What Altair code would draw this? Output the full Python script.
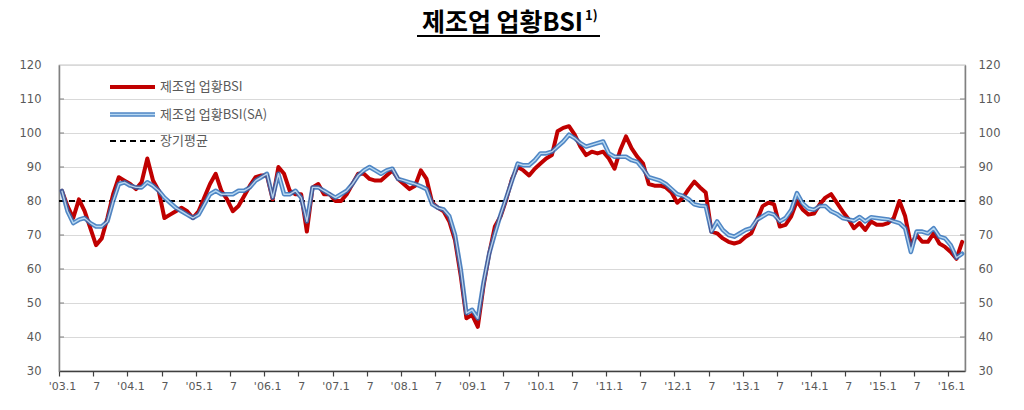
import json
import altair as alt
import pandas as pd

# ---------------- data ----------------
TITLE = "제조업 업황BSI"
TITLE_NOTE = "1)"
LEGEND_LABELS = ["제조업 업황BSI", "제조업 업황BSI(SA)", "장기평균"]
LONG_TERM_AVG = 80
Y_TICKS = [30, 40, 50, 60, 70, 80, 90, 100, 110, 120]
X_TICK_LABELS = ["'03.1", "7", "'04.1", "7", "'05.1", "7", "'06.1", "7", "'07.1", "7",
                 "'08.1", "7", "'09.1", "7", "'10.1", "7", "'11.1", "7", "'12.1", "7",
                 "'13.1", "7", "'14.1", "7", "'15.1", "7", "'16.1"]

# monthly, 2003.1 - 2016.3
bsi = [
    83, 78.5, 75, 80.5, 77, 72, 67, 69, 75, 82, 87, 86,            # 2003
    85, 83.5, 85.5, 92.5, 86, 83, 75, 76, 77, 78, 77, 75,          # 2004
    77, 81, 85, 88, 83, 80.5, 77, 78.5, 81.5, 84.5, 87, 87.5,      # 2005
    87.5, 80.5, 90, 88, 83, 82, 82, 71, 84, 85, 82, 82,            # 2006
    80, 80, 82, 85, 88, 88, 86.5, 86, 86, 87.5, 89, 86.5,          # 2007
    85, 83.5, 84.5, 89, 86.5, 79.5, 78, 77, 74, 68.5, 58, 45.5,    # 2008
    46.5, 43, 55, 64.5, 72.5, 75.5, 80.5, 86.5, 90, 89, 87.5, 89.5,  # 2009
    91, 92.5, 93.5, 100.5, 101.5, 102, 99.5, 96, 93.5, 94.5, 94, 94.5,  # 2010
    92.5, 89.5, 95, 99, 95.5, 93, 91, 85, 84.5, 84.5, 84, 82.5,    # 2011
    79.5, 81, 83.5, 85.7, 84, 82.5, 71, 70.5, 69, 68, 67.5, 68,    # 2012
    69.5, 70.5, 74.5, 78.5, 79.5, 79, 72.5, 73, 75.5, 80, 77.5, 76,  # 2013
    76.3, 79, 81, 82, 79.5, 77, 74.8, 72, 73.5, 71.5, 74, 73,      # 2014
    73, 73.5, 75, 80, 75.5, 67, 70, 68, 68, 70.5, 67.5, 66.5,      # 2015
    65, 63, 68,                                                    # 2016
]
bsi_sa = [
    83, 77, 73.5, 74.5, 75, 73.5, 72.5, 72.5, 74, 80, 85, 85.5,    # 2003
    84.5, 84, 84, 85.5, 84.5, 83, 81, 79.5, 78, 77, 76, 75,        # 2004
    76, 79, 82, 83, 82, 82, 82, 83, 83, 84, 86, 87,                # 2005
    88, 81, 88, 82, 82, 83, 81, 74, 84, 84, 83, 82,                # 2006
    81, 82, 83, 85, 87.5, 89, 90, 89, 88, 89, 89.5, 86.5,          # 2007
    86, 85.5, 85, 84.3, 83.5, 79, 78, 77.5, 75.5, 70, 60, 47,      # 2008
    48, 45.5, 56, 64.5, 70.5, 76, 81, 86, 91, 90.5, 90.5, 92,      # 2009
    94, 94, 94.5, 96, 97.5, 99.5, 98.5, 97, 96, 96.5, 97, 97.5,    # 2010
    94, 93, 93, 93, 92, 91.5, 89.5, 87, 86.5, 86, 85, 83.5,        # 2011
    82, 81.5, 80.5, 79, 78.6, 78.5, 71, 74, 71.5, 70, 69.5, 70.5,  # 2012
    71.5, 72, 74.5, 75.5, 76.5, 76, 74, 75, 77.3, 82.3, 79.3, 77.8,  # 2013
    77.4, 78.5, 78.5, 77, 76.2, 75, 74.6, 74.2, 75.3, 74, 75.2, 75,  # 2014
    74.8, 74.6, 74, 73.5, 72, 65, 71, 71, 70.5, 72, 69.5, 69,      # 2015
    67, 63.3, 64.5,                                                # 2016
]

n = len(bsi)
df = pd.DataFrame({"m": [i + 0.5 for i in range(n)], "bsi": bsi, "sa": bsi_sa})

# ---------------- layout ----------------
W, H = 906, 306
KR = "Noto Sans CJK KR"
NUM = "DejaVu Sans"
BLUE = "#2a6db8"
LIGHT = "#c9e6f9"

ys = alt.Scale(domain=[Y_TICKS[0], Y_TICKS[-1]], nice=False, zero=False)
xs = alt.Scale(domain=[0, n], nice=False, zero=False)

x_axis = alt.Axis(
    values=list(range(0, 6 * len(X_TICK_LABELS), 6)),
    labelExpr=json.dumps(X_TICK_LABELS) + "[round(datum.value / 6)]",
    title=None, grid=False, ticks=True, tickSize=5, tickColor="#404040", tickWidth=1.2,
    domainColor="#404040", domainWidth=1.5, labelFont=NUM, labelFontSize=11,
    labelColor="#595959", labelPadding=4, labelOffset=3, labelFlush=False,
    labelOverlap=False,
)
X = alt.X("m:Q", scale=xs, axis=x_axis)

left_axis = alt.Axis(values=Y_TICKS, orient="left", grid=True, gridColor="#d9d9d9",
                     gridWidth=1.2, ticks=False, domainColor="#808080", domainWidth=1.5,
                     labelFont=NUM, labelFontSize=11.5, labelColor="#595959",
                     labelPadding=18, title=None)
right_axis = alt.Axis(values=Y_TICKS, orient="right", grid=False, ticks=False,
                      domainColor="#808080", domainWidth=1.5, labelFont=NUM,
                      labelFontSize=11.5, labelColor="#595959", labelPadding=13,
                      title=None, labelAlign="left")

axis_left = alt.Chart(df).mark_line(opacity=0).encode(
    x=X, y=alt.Y("bsi:Q", scale=ys, axis=left_axis))
axis_right = alt.Chart(df).mark_line(opacity=0).encode(
    x=X, y=alt.Y("sa:Q", scale=ys, axis=right_axis))

tick_df = pd.DataFrame({"v": Y_TICKS[1:-1]})
ticks_l = alt.Chart(tick_df).mark_rule(color="#7f7f7f", strokeWidth=1).encode(
    y=alt.Y("v:Q", scale=ys, axis=None), x=alt.value(0), x2=alt.value(5))
ticks_r = alt.Chart(tick_df).mark_rule(color="#7f7f7f", strokeWidth=1).encode(
    y=alt.Y("v:Q", scale=ys, axis=None), x=alt.value(W - 5), x2=alt.value(W))

avg = alt.Chart(pd.DataFrame({"avg": [LONG_TERM_AVG]})).mark_rule(
    color="black", strokeWidth=2, strokeDash=[6, 4]).encode(
    y=alt.Y("avg:Q", scale=ys, axis=None))

red = alt.Chart(df).mark_line(color="#c00000", strokeWidth=4, strokeJoin="round",
                              strokeCap="round").encode(
    x=X, y=alt.Y("bsi:Q", scale=ys, axis=None))
blue_outer = alt.Chart(df).mark_line(color=BLUE, strokeWidth=4.5, opacity=0.82,
                                     strokeJoin="round", strokeCap="round").encode(
    x=X, y=alt.Y("sa:Q", scale=ys, axis=None))
blue_inner = alt.Chart(df).mark_line(color=LIGHT, strokeWidth=1.4, opacity=0.85,
                                     strokeJoin="round").encode(
    x=X, y=alt.Y("sa:Q", scale=ys, axis=None))

# ---------------- title ----------------
title = alt.Chart(pd.DataFrame({"t": [TITLE]})).mark_text(
    font=KR, fontSize=25, fontWeight="bold", color="black", align="right",
    baseline="alphabetic").encode(x=alt.value(524), y=alt.value(-34), text="t:N")
title_note = alt.Chart(pd.DataFrame({"t": [TITLE_NOTE]})).mark_text(
    font=KR, fontSize=13, fontWeight="bold", color="black", align="left",
    baseline="alphabetic").encode(x=alt.value(526), y=alt.value(-45), text="t:N")
underline = alt.Chart(pd.DataFrame({"a": [0]})).mark_rule(color="black", strokeWidth=2).encode(
    x=alt.value(358), x2=alt.value(541), y=alt.value(-29))

# ---------------- legend ----------------
def leg_text(label, y):
    return alt.Chart(pd.DataFrame({"t": [label]})).mark_text(
        font=KR, fontSize=13, color="#595959", align="left", baseline="middle").encode(
        x=alt.value(101), y=alt.value(y), text="t:N")

def leg_line(y, **kw):
    return alt.Chart(pd.DataFrame({"a": [0]})).mark_rule(**kw).encode(
        x=alt.value(51), x2=alt.value(96), y=alt.value(y))

legend = [
    leg_line(22, color="#c00000", strokeWidth=4),
    leg_text(LEGEND_LABELS[0], 22),
    leg_line(49.5, color=BLUE, strokeWidth=4.5, opacity=0.82),
    leg_line(49.5, color=LIGHT, strokeWidth=1.4, opacity=0.85),
    leg_text(LEGEND_LABELS[1], 49.5),
    leg_line(76, color="black", strokeWidth=2, strokeDash=[6, 4]),
    leg_text(LEGEND_LABELS[2], 76),
]

chart = alt.layer(
    axis_left, axis_right, ticks_l, ticks_r, avg, red, blue_outer, blue_inner,
    title, title_note, underline, *legend
).resolve_scale(y="independent").properties(
    width=W, height=H,
    padding={"left": 51, "top": 57, "right": 45, "bottom": 29},
    autosize=alt.AutoSizeParams(type="none"),
).configure(background="white").configure_view(stroke="#8c8c8c", strokeWidth=1.2)

chart.save("out.html", embed_options={"renderer": "svg", "actions": False})
